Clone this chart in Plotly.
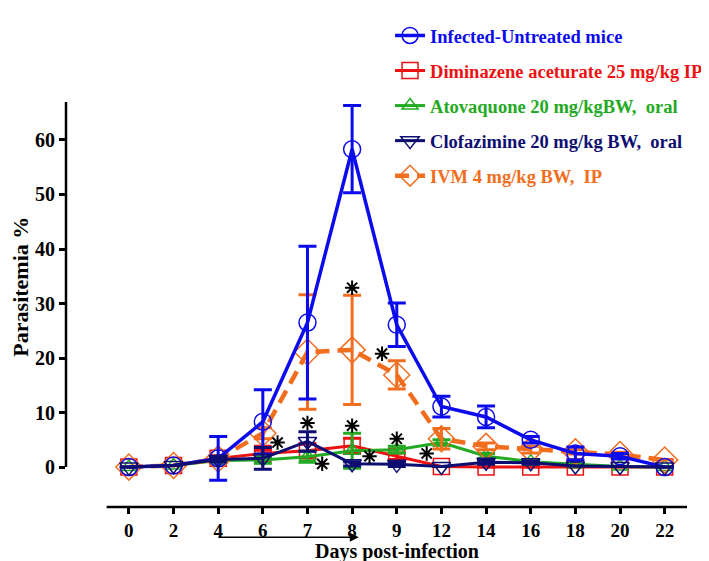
import plotly.graph_objects as go

# ---- data ----
days = ["0", "2", "4", "6", "7", "8", "9", "12", "14", "16", "18", "20", "22"]
pos = list(range(len(days)))  # equally spaced day categories

infected = [0.0, 0.3, 1.6, 8.3, 26.5, 58.3, 26.1, 11.1, 9.2, 5.0, 2.5, 2.0, 0.0]
infected_err = [None, None, 4.0, 5.9, 14.0, 8.0, 4.0, 1.9, 2.0, 0.6, 1.2, 0.5, None]

diminazene = [0.0, 0.3, 1.6, 2.5, 3.0, 3.9, 2.0, 0.1, 0.0, 0.0, 0.0, 0.0, 0.0]
diminazene_err = [None, None, 0.5, 0.6, 1.2, 1.4, 0.6, None, None, None, None, None, None]

atovaquone = [0.0, 0.3, 1.2, 1.3, 1.9, 3.0, 3.2, 4.5, 2.0, 1.0, 0.5, 0.1, 0.0]
atovaquone_err = [None, None, 0.4, 0.6, 1.0, 3.2, 0.6, 0.5, 0.5, 0.4, None, None, None]

clofazimine = [0.0, 0.3, 1.4, 1.6, 4.7, 0.6, 0.5, 0.1, 0.9, 0.8, 0.2, 0.1, 0.0]
clofazimine_err = [None, None, 0.4, 2.0, 1.8, 0.4, 0.4, None, 0.4, 0.3, None, None, None]

ivm = [0.0, 0.3, 1.5, 6.2, 21.1, 21.5, 16.9, 5.2, 3.8, 3.2, 2.8, 2.3, 1.3]
ivm_err = [None, None, 0.5, 1.0, 10.5, 10.0, 2.6, 1.9, 0.6, 0.6, 0.4, 0.4, None]

# significance asterisks: (position along day axis, parasitemia %)
sig_x = [3.33, 4.0, 4.33, 5.0, 5.39, 5.0, 5.67, 6.0, 6.67]
sig_y = [4.5, 8.1, 0.6, 7.6, 2.0, 32.9, 20.8, 5.2, 2.5]

names = ["Infected-Untreated mice", "Diminazene aceturate 25 mg/kg IP",
         "Atovaquone 20 mg/kgBW,  oral", "Clofazimine 20 mg/kg BW,  oral",
         "IVM 4 mg/kg BW,  IP"]

BLUE = "#0B0BEE"
RED = "#EE1111"
GREEN = "#22AA22"
NAVY = "#0E0E72"
ORANGE = "#F26E1F"
FONT = "Liberation Serif"

fig = go.Figure()


def add_series(y, err, name, color, symbol, msize, lwidth, dash, z):
    fig.add_trace(go.Scatter(
        x=pos, y=y, mode="lines+markers",
        name=f'<span style="color:{color}">{name}</span>',
        legendgroup=name, zorder=z,
        line=dict(color=color, width=lwidth, dash=dash),
        marker=dict(symbol=symbol, size=msize, color=color, line=dict(color=color, width=1.5)),
        error_y=dict(type="data", array=err, visible=True, color=color, thickness=3, width=9),
    ))


# added in legend order; zorder controls drawing order
add_series(infected, infected_err, names[0], BLUE, "circle-open", 17, 3.5, "solid", 4)
add_series(diminazene, diminazene_err, names[1], RED, "square-open", 16, 3, "solid", 1)
add_series(atovaquone, atovaquone_err, names[2], GREEN, "triangle-up-open", 14, 3, "solid", 2)
add_series(clofazimine, clofazimine_err, names[3], NAVY, "triangle-down-open", 16, 3, "solid", 5)
add_series(ivm, ivm_err, names[4], ORANGE, "diamond-open", 20, 4.5, "14px,8px", 3)

fig.add_trace(go.Scatter(
    x=sig_x, y=sig_y, mode="markers", showlegend=False, hoverinfo="skip", zorder=6,
    marker=dict(symbol="asterisk-open", size=12, color="black", line=dict(color="black", width=2)),
))

Y_TOP = 66.96
fig.update_layout(
    width=709, height=561,
    margin=dict(l=58, r=9, t=83, b=62),
    paper_bgcolor="white", plot_bgcolor="white",
    font=dict(family=FONT, color="black", size=20, weight="bold"),
    xaxis=dict(type="linear", range=[-1.408, 12.5], tickvals=pos, ticktext=days,
               showline=False, showgrid=False, zeroline=False,
               ticks="outside", ticklen=6, tickwidth=2.5, tickcolor="black",
               tickfont=dict(family=FONT, size=19, color="black", weight="bold")),
    yaxis=dict(range=[-7.32, Y_TOP], tickvals=[0, 10, 20, 30, 40, 50, 60],
               showline=False, showgrid=False, zeroline=False,
               ticks="outside", ticklen=6, tickwidth=2.5, tickcolor="black",
               tickfont=dict(family=FONT, size=20, color="black", weight="bold")),
    legend=dict(x=0.5218, y=1.21, xanchor="left", yanchor="top",
                font=dict(family=FONT, size=18.5, weight="bold"),
                traceorder="grouped", tracegroupgap=8, bgcolor="rgba(0,0,0,0)"),
    showlegend=True,
    shapes=[
        dict(type="line", xref="paper", yref="paper", x0=0.0654, x1=1.0, y0=0, y1=0,
             line=dict(color="black", width=2.5)),
        dict(type="line", xref="paper", yref="y", x0=0, x1=0, y0=0, y1=Y_TOP,
             line=dict(color="black", width=2.5)),
    ],
    annotations=[
        dict(xref="x", yref="paper", x=5.15, y=-0.0745, axref="x", ayref="pixel",
             ax=1.97, ay=0, text="", showarrow=True, arrowhead=2, arrowsize=1.2,
             arrowwidth=1.5, arrowcolor="black"),
        dict(xref="paper", yref="paper", x=0.5327, y=-0.110, text="Days post-infection",
             showarrow=False, xanchor="center", yanchor="middle",
             font=dict(family=FONT, size=20, weight="bold")),
        dict(xref="paper", yref="paper", x=-0.0732, y=0.543, text="Parasitemia %",
             textangle=-90, showarrow=False, xanchor="center", yanchor="middle",
             font=dict(family=FONT, size=22, weight="bold")),
    ],
)

fig.write_html("out.html")
